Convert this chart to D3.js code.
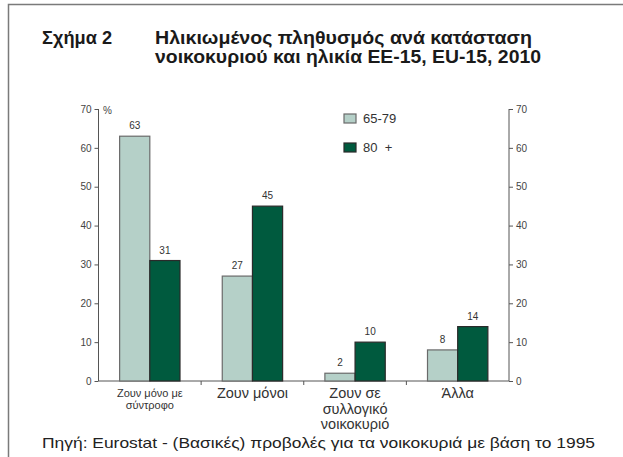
<!DOCTYPE html>
<html>
<head>
<meta charset="utf-8">
<script src="https://cdn.jsdelivr.net/npm/d3@7.9.0/dist/d3.min.js"></script>
<style>
  body { margin: 0; background: #fff; }
  text { font-family: "Liberation Sans", Arial, sans-serif; }
</style>
</head>
<body>
<svg id="chart" width="623" height="457"></svg>
<script>
// Data
const categories = ["Ζουν μόνο με σύντροφο", "Ζουν μόνοι", "Ζουν σε συλλογικό νοικοκυριό", "Άλλα"];
const categoryLines = [["Ζουν μόνο με", "σύντροφο"], ["Ζουν μόνοι"], ["Ζουν σε", "συλλογικό", "νοικοκυριό"], ["Άλλα"]];
const series = ["65-79", "80  +"];
const values6579 = [63, 27, 2, 8];
const values80 = [31, 45, 10, 14];
const yTicks = [0, 10, 20, 30, 40, 50, 60, 70];

const colors = { "65-79": "#b5d0c8", "80  +": "#005a3e" };
const strokes = { "65-79": "#6a6a6a", "80  +": "#2a2a2a" };

const svg = d3.select("#chart");

// Frame
svg.append("path")
  .attr("d", "M8.5,457 L8.5,4.5 L623,4.5")
  .attr("fill", "none").attr("stroke", "#7a7a7a").attr("stroke-width", 1.5);

// Title (stretched to the reference widths)
const titleParts = [
  { t: "Σχήμα 2", x: 42, y: 44, w: 70 },
  { t: "Ηλικιωμένος πληθυσμός ανά κατάσταση", x: 155, y: 44, w: 377 },
  { t: "νοικοκυριού και ηλικία ΕΕ-15, EU-15, 2010", x: 155, y: 63, w: 386 }
];
titleParts.forEach(p => {
  svg.append("text").attr("x", p.x).attr("y", p.y)
    .attr("font-size", 17.5).attr("font-weight", "bold").attr("fill", "#1a1a1a")
    .attr("textLength", p.w).attr("lengthAdjust", "spacingAndGlyphs")
    .text(p.t);
});

// Scales
const x = d3.scaleBand().domain(categories).range([98.5, 509]);
const xs = d3.scaleBand().domain(series).range([0, x.bandwidth()]).paddingOuter(0.7);
const y = d3.scaleLinear().domain([0, 70]).range([381, 109]);

// Axes
const axisColor = "#555";
const leftAxis = svg.append("g").attr("transform", "translate(98.5,0)")
  .call(d3.axisLeft(y).tickValues(yTicks).tickSize(4).tickPadding(3));
const rightAxis = svg.append("g").attr("transform", "translate(509,0)")
  .call(d3.axisRight(y).tickValues(yTicks).tickSize(4).tickPadding(3));
[leftAxis, rightAxis].forEach(g => {
  g.select(".domain").attr("stroke", axisColor).attr("d", `M0,${y(70)}V${y(0)}`);
  g.selectAll(".tick line").attr("stroke", axisColor);
  g.selectAll(".tick text").attr("fill", "#444").attr("font-size", 10)
    .attr("font-family", "Liberation Sans, Arial, sans-serif");
});

// x axis baseline with boundary ticks
svg.append("line").attr("x1", 98.5).attr("x2", 509).attr("y1", y(0)).attr("y2", y(0))
  .attr("stroke", axisColor);
const bounds = categories.slice(1).map(c => x(c));
svg.selectAll(".xtick").data(bounds).join("line")
  .attr("x1", d => d).attr("x2", d => d)
  .attr("y1", y(0)).attr("y2", y(0) + 4).attr("stroke", axisColor);

// % label
svg.append("text").attr("x", 103).attr("y", 114)
  .attr("font-size", 10).attr("fill", "#444").text("%");

// Bars
const rows = categories.map((c, i) => ({ cat: c, vals: [
  { s: series[0], v: values6579[i] }, { s: series[1], v: values80[i] }
] }));

const groups = svg.selectAll(".grp").data(rows).join("g")
  .attr("transform", d => `translate(${x(d.cat)},0)`);

groups.selectAll("rect").data(d => d.vals).join("rect")
  .attr("x", d => xs(d.s))
  .attr("y", d => y(d.v))
  .attr("width", xs.bandwidth())
  .attr("height", d => y(0) - y(d.v))
  .attr("fill", d => colors[d.s])
  .attr("stroke", d => strokes[d.s])
  .attr("stroke-width", 1.2);

groups.selectAll(".val").data(d => d.vals).join("text")
  .attr("x", d => xs(d.s) + xs.bandwidth() / 2)
  .attr("y", d => y(d.v) - 7)
  .attr("text-anchor", "middle")
  .attr("font-size", 10).attr("fill", "#333")
  .text(d => d.v);

// Category labels
categoryLines.forEach((lines, i) => {
  const cx = x(categories[i]) + x.bandwidth() / 2;
  const small = i === 0;
  lines.forEach((ln, j) => {
    svg.append("text")
      .attr("x", cx)
      .attr("y", (small ? 397 : 398) + j * (small ? 12 : 15.5))
      .attr("text-anchor", "middle")
      .attr("font-size", small ? 11 : 14.5)
      .attr("fill", "#333")
      .text(ln);
  });
});

// Legend
series.forEach((s, i) => {
  svg.append("rect")
    .attr("x", 344).attr("y", 114 + i * 29)
    .attr("width", 12).attr("height", 9)
    .attr("fill", colors[s]).attr("stroke", strokes[s]).attr("stroke-width", 1.2);
  svg.append("text")
    .attr("x", 363).attr("y", 123 + i * 29)
    .attr("font-size", 13).attr("fill", "#333")
    .attr("xml:space", "preserve")
    .style("white-space", "pre")
    .text(s);
});

// Source
svg.append("text").attr("x", 42).attr("y", 448)
  .attr("font-size", 15).attr("fill", "#222")
  .attr("textLength", 553).attr("lengthAdjust", "spacingAndGlyphs")
  .text("Πηγή: Eurostat - (Βασικές) προβολές για τα νοικοκυριά με βάση το 1995");
</script>
</body>
</html>
